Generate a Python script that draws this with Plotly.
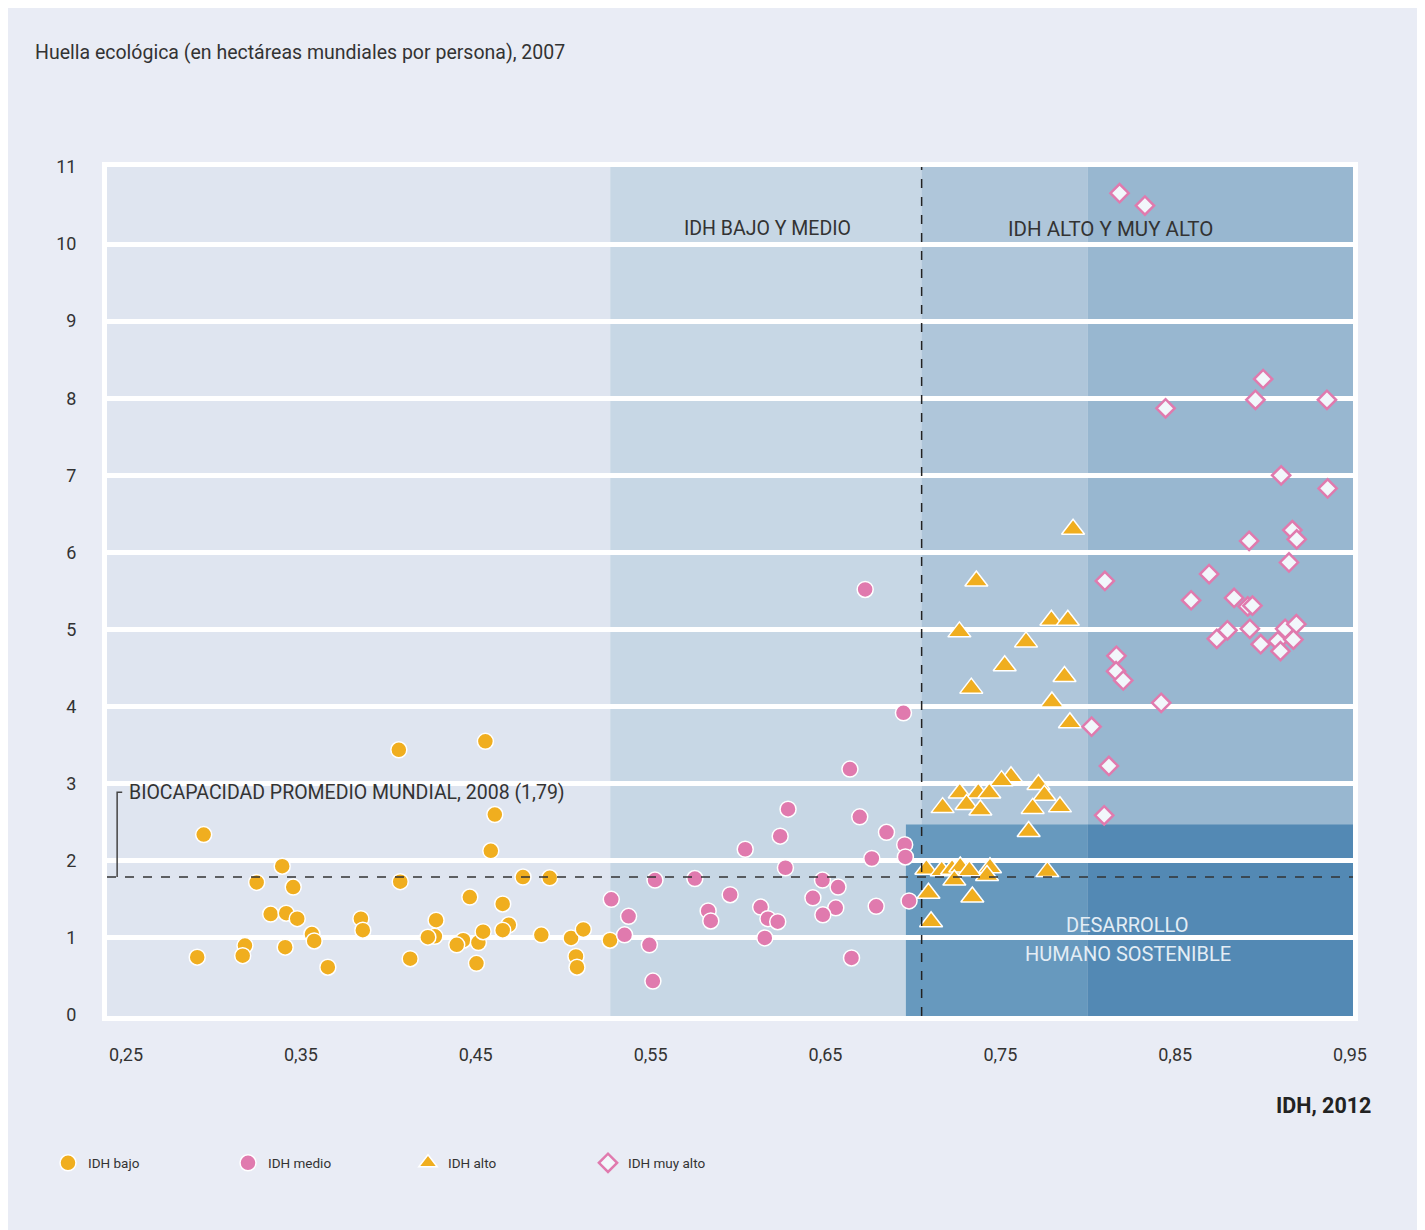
import plotly.graph_objects as go

# IDH bajo (circles, yellow)
bajo_x = [0.406, 0.4555, 0.2944, 0.4609, 0.4586, 0.3393, 0.3247, 0.3456, 0.4068, 0.477,
          0.4923, 0.4466, 0.4654, 0.3327, 0.3416, 0.3479, 0.3843, 0.3854, 0.3563, 0.3576,
          0.318, 0.3167, 0.2907, 0.341, 0.3654, 0.4273, 0.4266, 0.4226, 0.4125, 0.4428,
          0.4391, 0.4515, 0.4542, 0.4504, 0.4689, 0.4654, 0.4875, 0.5045, 0.5115, 0.5073,
          0.5079, 0.5268]
bajo_y = [3.44, 3.55, 2.34, 2.60, 2.13, 1.93, 1.72, 1.66, 1.73, 1.79,
          1.78, 1.53, 1.44, 1.31, 1.32, 1.25, 1.25, 1.10, 1.05, 0.96,
          0.90, 0.77, 0.75, 0.88, 0.62, 1.23, 1.02, 1.01, 0.73, 0.97,
          0.91, 0.94, 1.08, 0.67, 1.17, 1.10, 1.04, 1.00, 1.11, 0.76,
          0.62, 0.97]

# IDH medio (circles, pink)
medio_x = [0.6727, 0.6946, 0.664, 0.6286, 0.6696, 0.6241, 0.6849, 0.6041, 0.6953, 0.6765,
           0.6957, 0.6271, 0.5525, 0.5753, 0.6483, 0.6572, 0.5275, 0.5955, 0.6428, 0.6978,
           0.5374, 0.5829, 0.5844, 0.6129, 0.6171, 0.6227, 0.6559, 0.6485, 0.679, 0.5351,
           0.5493, 0.6153, 0.6649, 0.5513]
medio_y = [5.52, 3.92, 3.19, 2.67, 2.57, 2.32, 2.37, 2.15, 2.21, 2.03,
           2.05, 1.91, 1.75, 1.77, 1.75, 1.66, 1.50, 1.56, 1.52, 1.48,
           1.28, 1.35, 1.22, 1.40, 1.25, 1.21, 1.39, 1.30, 1.41, 1.04,
           0.91, 1.00, 0.74, 0.44]

# IDH alto (triangles, yellow)
alto_x = [0.7916, 0.7363, 0.7792, 0.7886, 0.7266, 0.7647, 0.7525, 0.7867, 0.7334, 0.7795,
          0.7898, 0.7561, 0.7507, 0.7718, 0.7268, 0.7374, 0.7437, 0.7752, 0.717, 0.7307,
          0.7386, 0.7685, 0.7841, 0.7662, 0.7077, 0.7165, 0.7224, 0.7271, 0.7323, 0.7441,
          0.7424, 0.7237, 0.7769, 0.7089, 0.734, 0.7104]
alto_y = [6.30, 5.63, 5.12, 5.12, 4.97, 4.84, 4.53, 4.39, 4.24, 4.06,
          3.79, 3.09, 3.04, 2.99, 2.88, 2.88, 2.88, 2.85, 2.69, 2.73,
          2.66, 2.68, 2.70, 2.38, 1.89, 1.87, 1.89, 1.92, 1.87, 1.91,
          1.81, 1.75, 1.86, 1.58, 1.53, 1.21]

# IDH muy alto (diamonds, open)
muyalto_x = [0.8182, 0.8327, 0.9003, 0.8959, 0.9368, 0.8445, 0.9106, 0.9372, 0.917, 0.9195,
             0.8923, 0.9151, 0.8098, 0.8694, 0.8591, 0.8837, 0.8915, 0.8942, 0.8799, 0.8738,
             0.8927, 0.8989, 0.9087, 0.9129, 0.9193, 0.9176, 0.9102, 0.8164, 0.8162, 0.8203,
             0.842, 0.8022, 0.8121, 0.8094]
muyalto_y = [10.66, 10.50, 8.25, 7.98, 7.98, 7.87, 7.00, 6.83, 6.29, 6.17,
             6.15, 5.87, 5.63, 5.72, 5.38, 5.41, 5.30, 5.31, 4.99, 4.88,
             5.01, 4.81, 4.85, 5.01, 5.07, 4.87, 4.72, 4.66, 4.46, 4.34,
             4.05, 3.74, 3.23, 2.59]

x_ticks = [0.25, 0.35, 0.45, 0.55, 0.65, 0.75, 0.85, 0.95]
x_ticktext = ["0,25", "0,35", "0,45", "0,55", "0,65", "0,75", "0,85", "0,95"]
y_ticks = list(range(0, 12))

biocapacidad = 1.79
FONT = "Roboto, sans-serif"
YELLOW = "#f0ae1f"
PINK = "#e07aae"

fig = go.Figure()
fig.add_trace(go.Scatter(
    x=bajo_x, y=bajo_y, mode="markers", name="IDH bajo",
    marker=dict(symbol="circle", size=16, color=YELLOW, line=dict(color="white", width=1.5)),
))
fig.add_trace(go.Scatter(
    x=medio_x, y=medio_y, mode="markers", name="IDH medio",
    marker=dict(symbol="circle", size=16, color=PINK, line=dict(color="white", width=1.5)),
))
fig.add_trace(go.Scatter(
    x=alto_x, y=alto_y, mode="markers", name="IDH alto",
    marker=dict(symbol="triangle-up", size=20, color=YELLOW, line=dict(color="white", width=1.5)),
))
fig.add_trace(go.Scatter(
    x=muyalto_x, y=muyalto_y, mode="markers", name="IDH muy alto",
    marker=dict(symbol="diamond", size=14, color="#f2f7fb", line=dict(color=PINK, width=2.5)),
))

x0, x1 = 0.2391, 0.9517
bands = [(x0, 0.527, "#dfe5f0"), (0.527, 0.705, "#c7d7e5"),
         (0.705, 0.80, "#afc6da"), (0.80, x1, "#98b7d0")]
for a, b, c in bands:
    fig.add_shape(type="rect", xref="x", yref="paper", x0=a, x1=b, y0=0, y1=1,
                  fillcolor=c, line_width=0, layer="below")
# sustainable development box
fig.add_shape(type="rect", xref="x", yref="y", x0=0.696, x1=0.80, y0=-0.1, y1=2.47,
              fillcolor="#6799be", line_width=0, layer="below")
fig.add_shape(type="rect", xref="x", yref="y", x0=0.80, x1=x1, y0=-0.1, y1=2.47,
              fillcolor="#5389b4", line_width=0, layer="below")

# dashed reference lines
fig.add_shape(type="line", xref="x", yref="paper", x0=0.705, x1=0.705, y0=0, y1=1,
              line=dict(color="#222", width=1.5, dash="dash"))
fig.add_shape(type="line", xref="x", yref="y", x0=x0, x1=x1, y0=biocapacidad, y1=biocapacidad,
              line=dict(color="#333", width=1.5, dash="dash"))
# bracket for biocapacity label
fig.add_shape(type="path", xref="x", yref="y",
              path=f"M 0.2449 {biocapacidad} L 0.2449 2.89 L 0.2478 2.89",
              line=dict(color="#444", width=1.5))

fig.add_annotation(x=0.2505, y=2.89, xref="x", yref="y", xanchor="left", yanchor="middle",
                   text="BIOCAPACIDAD PROMEDIO MUNDIAL, 2008 (1,79)", showarrow=False,
                   font=dict(size=19.5, color="#333", family=FONT))
fig.add_annotation(x=0.617, y=10.2, xref="x", yref="y", text="IDH BAJO Y MEDIO",
                   showarrow=False, font=dict(size=19.5, color="#333", family=FONT))
fig.add_annotation(x=0.813, y=10.2, xref="x", yref="y", text="IDH ALTO Y MUY ALTO",
                   showarrow=False, font=dict(size=20.5, color="#333", family=FONT))
fig.add_annotation(x=0.823, y=1.165, xref="x", yref="y", text="DESARROLLO",
                   showarrow=False, font=dict(size=20, color="#e3edf5", family=FONT))
fig.add_annotation(x=0.823, y=0.79, xref="x", yref="y", text="HUMANO SOSTENIBLE",
                   showarrow=False, font=dict(size=20, color="#e3edf5", family=FONT))
fig.add_annotation(x=1, y=(1008 - 1097) / 849, xref="paper", yref="paper",
                   xanchor="right", yanchor="middle", xshift=20,
                   text="<b>IDH, 2012</b>", showarrow=False,
                   font=dict(size=21.5, color="#222", family=FONT))

fig.update_layout(
    width=1425, height=1230,
    paper_bgcolor="#e9ecf5", plot_bgcolor="#dfe5f0",
    margin=dict(l=99, r=80, t=159, b=222),
    font=dict(family=FONT, color="#333"),
    title=dict(text="Huella ecológica (en hectáreas mundiales por persona), 2007",
               x=27 / 1425, xanchor="left", y=1 - 44 / 1230, yanchor="middle",
               font=dict(size=19.5, color="#333", family=FONT)),
    showlegend=True,
    legend=dict(orientation="h", x=(40 - 99) / 1246, xanchor="left",
                y=(1008 - 1155) / 849, yanchor="middle",
                entrywidth=135, font=dict(size=13.5, color="#333", family=FONT),
                bgcolor="rgba(0,0,0,0)"),
)
fig.update_xaxes(range=[x0, x1], tickvals=x_ticks, ticktext=x_ticktext, showgrid=False,
                 zeroline=False, showline=True, mirror=True, linecolor="white", linewidth=5,
                 ticks="", ticklabelstandoff=18, tickfont=dict(size=18, color="#333"))
fig.update_yaxes(range=[-0.013, 11], tickvals=y_ticks, showgrid=True, gridcolor="white",
                 gridwidth=5, zeroline=False, showline=True, mirror=True, linecolor="white",
                 linewidth=5, ticks="", ticklabelstandoff=22, tickfont=dict(size=18, color="#333"))

fig.write_html("out.html")
